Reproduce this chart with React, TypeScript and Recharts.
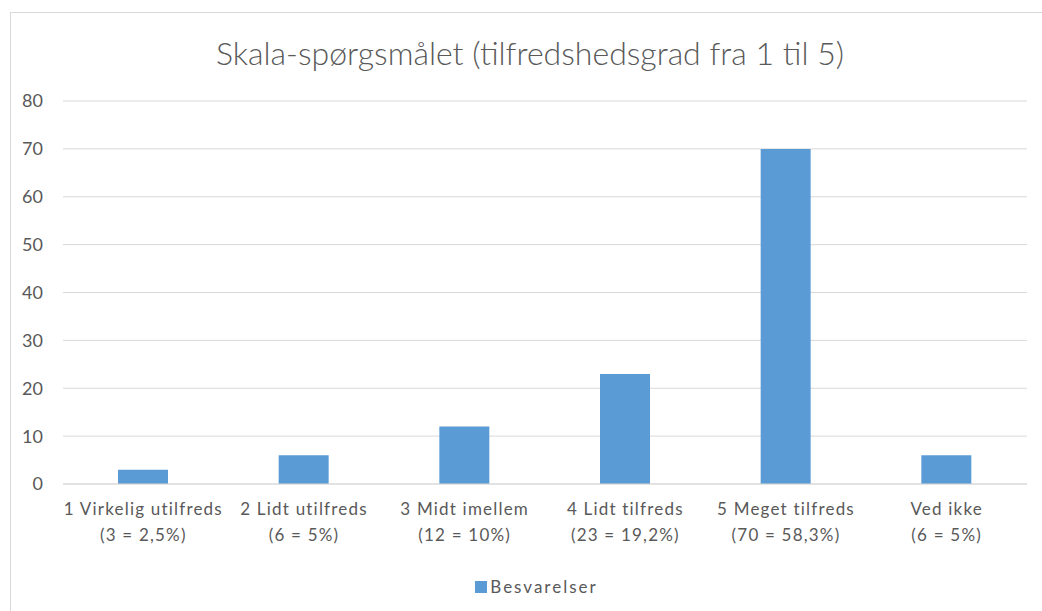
import React from "react";
import { BarChart, Bar, XAxis, YAxis, CartesianGrid, Legend } from "recharts";

const categories = [
  "1 Virkelig utilfreds",
  "2 Lidt utilfreds",
  "3 Midt imellem",
  "4 Lidt tilfreds",
  "5 Meget tilfreds",
  "Ved ikke",
];
const subLabels = ["(3 = 2,5%)", "(6 = 5%)", "(12 = 10%)", "(23 = 19,2%)", "(70 = 58,3%)", "(6 = 5%)"];
const besvarelser = [3, 6, 12, 23, 70, 6];
const yTicks = [0, 10, 20, 30, 40, 50, 60, 70, 80];

const data = categories.map((c, i) => ({ name: c, sub: subLabels[i], Besvarelser: besvarelser[i] }));

const FONT = "Lato, 'Liberation Sans', sans-serif";
const GREY = "#595959";

const XTick = (props: any) => {
  const { x, y, payload } = props;
  const idx = payload.index;
  return (
    <g transform={`translate(${x},${y})`}>
      <text x={0} y={0} textAnchor="middle" fill={GREY} fontSize={17} fontFamily={FONT} letterSpacing={1.2}>
        <tspan x={0} dy={23}>{payload.value}</tspan>
        <tspan x={0} dy={26}>{subLabels[idx]}</tspan>
      </text>
    </g>
  );
};

const LegendContent = () => (
  <div style={{ display: "flex", justifyContent: "center", alignItems: "center", fontFamily: FONT, fontSize: 17, color: GREY, letterSpacing: 2, paddingTop: 22, paddingLeft: 36 }}>
    <span style={{ width: 12, height: 12, background: "#5b9bd5", display: "inline-block", marginRight: 3 }} />
    <span>Besvarelser</span>
  </div>
);

export default function App() {
  return (
    <div style={{ position: "absolute", left: 0, top: 0, width: 1042, height: 611, background: "#fff", overflow: "hidden" }}>
      <div style={{ position: "absolute", left: 10, top: 12, width: 1040, height: 640, border: "1px solid #d9d9d9", boxSizing: "border-box" }} />
      <div style={{ position: "absolute", left: 10, top: 33, width: 1040, textAlign: "center", fontFamily: FONT, fontSize: 32, color: GREY, fontWeight: 300 }}>
        Skala-spørgsmålet (tilfredshedsgrad fra 1 til 5)
      </div>
      <div style={{ position: "absolute", left: 0, top: 0 }}>
        <BarChart width={1042} height={611} data={data} margin={{ top: 101, right: 15, left: 10, bottom: 14 }} barSize={50}>
          <CartesianGrid vertical={false} stroke="#d9d9d9" />
          <XAxis dataKey="name" tick={<XTick />} tickLine={false} axisLine={{ stroke: "#d9d9d9" }} interval={0} height={70} />
          <YAxis domain={[0, 80]} ticks={yTicks} tickLine={false} axisLine={false} width={53}
            tick={{ fill: GREY, fontSize: 18, fontFamily: FONT, dx: -12 }} />
          <Legend verticalAlign="bottom" height={43} content={<LegendContent />} />
          <Bar dataKey="Besvarelser" fill="#5b9bd5" isAnimationActive={false} />
        </BarChart>
      </div>
    </div>
  );
}
